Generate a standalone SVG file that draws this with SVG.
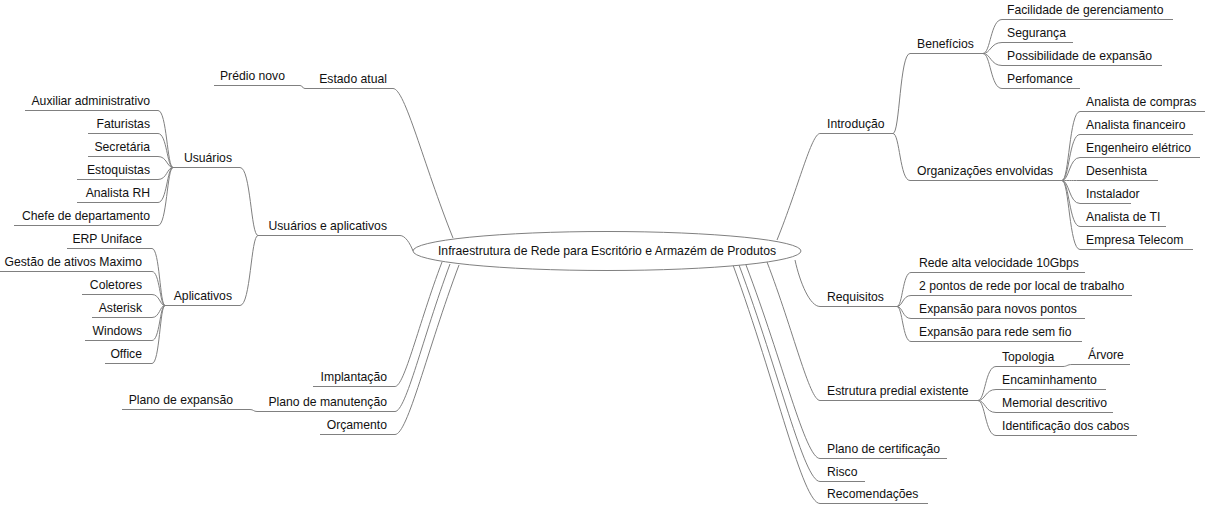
<svg xmlns="http://www.w3.org/2000/svg" width="1205" height="505" viewBox="0 0 1205 505">
<style>
.t{font-family:"Liberation Sans",Arial,sans-serif;font-size:12.2px;fill:#111}
.l{text-anchor:end}
.u,.c{fill:none;stroke:#808080;stroke-width:1}
</style>
<rect width="1205" height="505" fill="#fff"/>
<g id="connectors">
<path class="c" d="M453,238 C423,163 405,88.5 393,88.5"/>
<path class="c" d="M305,88.5 C302,88.5 303,85.5 300,85.5"/>
<path class="c" d="M413,251 C410,243 405,235.5 400,235.5"/>
<path class="c" d="M258,235.5 C250.8,235.5 250.8,167.5 240,167.5"/>
<path class="c" d="M258,235.5 C250.8,235.5 250.8,305.5 240,305.5"/>
<path class="c" d="M173,167.5 C167,167.5 167,110.5 158,110.5"/>
<path class="c" d="M173,167.5 C167,167.5 167,133.5 158,133.5"/>
<path class="c" d="M173,167.5 C167,167.5 167,156.5 158,156.5"/>
<path class="c" d="M173,167.5 C167,167.5 167,179.5 158,179.5"/>
<path class="c" d="M173,167.5 C167,167.5 167,202.5 158,202.5"/>
<path class="c" d="M173,167.5 C167,167.5 167,225.5 158,225.5"/>
<path class="c" d="M165,305.5 C159.8,305.5 159.8,248.5 152,248.5"/>
<path class="c" d="M165,305.5 C159.8,305.5 159.8,271.5 152,271.5"/>
<path class="c" d="M165,305.5 C159.8,305.5 159.8,294.5 152,294.5"/>
<path class="c" d="M165,305.5 C159.8,305.5 159.8,317.5 152,317.5"/>
<path class="c" d="M165,305.5 C159.8,305.5 159.8,340.5 152,340.5"/>
<path class="c" d="M165,305.5 C159.8,305.5 159.8,363.5 152,363.5"/>
<path class="c" d="M442,262 C418.5,324 404.4,386.5 395,386.5"/>
<path class="c" d="M450,264 C422.5,338 406,411.5 395,411.5"/>
<path class="c" d="M459,265 C427,350 407.8,434.5 395,434.5"/>
<path class="c" d="M257,411.5 C253.5,411.5 253.5,409.5 250,409.5"/>
<path class="c" d="M777,240 C798.5,187 811.4,133.5 820,133.5"/>
<path class="c" d="M893,133.5 C899.8,133.5 899.8,53.5 910,53.5"/>
<path class="c" d="M893,133.5 C899.8,133.5 899.8,180.5 910,180.5"/>
<path class="c" d="M983,53.5 C990.6,53.5 990.6,19.5 1002,19.5"/>
<path class="c" d="M983,53.5 C990.6,53.5 990.6,42.5 1002,42.5"/>
<path class="c" d="M983,53.5 C990.6,53.5 990.6,65.5 1002,65.5"/>
<path class="c" d="M983,53.5 C990.6,53.5 990.6,88.5 1002,88.5"/>
<path class="c" d="M1062,180.5 C1069.2,180.5 1069.2,111.5 1080,111.5"/>
<path class="c" d="M1062,180.5 C1069.2,180.5 1069.2,134.5 1080,134.5"/>
<path class="c" d="M1062,180.5 C1069.2,180.5 1069.2,157.5 1080,157.5"/>
<path class="c" d="M1062,180.5 C1069.2,180.5 1069.2,180.5 1080,180.5"/>
<path class="c" d="M1062,180.5 C1069.2,180.5 1069.2,203.5 1080,203.5"/>
<path class="c" d="M1062,180.5 C1069.2,180.5 1069.2,226.5 1080,226.5"/>
<path class="c" d="M1062,180.5 C1069.2,180.5 1069.2,249.5 1080,249.5"/>
<path class="c" d="M795,260 C800,283 810,306.5 820,306.5"/>
<path class="c" d="M897,306.5 C902.6,306.5 902.6,272.5 911,272.5"/>
<path class="c" d="M897,306.5 C902.6,306.5 902.6,295.5 911,295.5"/>
<path class="c" d="M897,306.5 C902.6,306.5 902.6,318.5 911,318.5"/>
<path class="c" d="M897,306.5 C902.6,306.5 902.6,341.5 911,341.5"/>
<path class="c" d="M767,262 C793.5,331 809.4,400.5 820,400.5"/>
<path class="c" d="M978,400.5 C985.2,400.5 985.2,366.5 996,366.5"/>
<path class="c" d="M978,400.5 C985.2,400.5 985.2,389.5 996,389.5"/>
<path class="c" d="M978,400.5 C985.2,400.5 985.2,412.5 996,412.5"/>
<path class="c" d="M978,400.5 C985.2,400.5 985.2,435.5 996,435.5"/>
<path class="c" d="M1063,366.5 C1067,366.5 1067,364.5 1072,364.5"/>
<path class="c" d="M746,265 C783,362 805.2,458.5 820,458.5"/>
<path class="c" d="M739,265 C779.5,373 803.8,481.5 820,481.5"/>
<path class="c" d="M733,265 C776.5,384 802.6,503.5 820,503.5"/>
</g>
<g id="central">
<ellipse cx="607" cy="251" rx="194" ry="19.5" fill="#fff" stroke="#808080"/>
<text class="t" x="607" y="255" text-anchor="middle">Infraestrutura de Rede para Escritório e Armazém de Produtos</text>
</g>
<g id="estado-atual"><path class="u" d="M305,88.5H393"/><text class="t l" x="387" y="83">Estado atual</text></g>
<g id="predio-novo"><path class="u" d="M214,85.5H300"/><text class="t l" x="285" y="80">Prédio novo</text></g>
<g id="usuarios-e-aplicativos"><path class="u" d="M258,235.5H400"/><text class="t l" x="387" y="230">Usuários e aplicativos</text></g>
<g id="usuarios"><path class="u" d="M173,167.5H240"/><text class="t l" x="232" y="162">Usuários</text></g>
<g id="auxiliar"><path class="u" d="M25,110.5H158"/><text class="t l" x="150" y="105">Auxiliar administrativo</text></g>
<g id="faturistas"><path class="u" d="M88,133.5H158"/><text class="t l" x="150" y="128">Faturistas</text></g>
<g id="secretaria"><path class="u" d="M88,156.5H158"/><text class="t l" x="150" y="151">Secretária</text></g>
<g id="estoquistas"><path class="u" d="M77,179.5H158"/><text class="t l" x="150" y="174">Estoquistas</text></g>
<g id="analista-rh"><path class="u" d="M77,202.5H158"/><text class="t l" x="150" y="197">Analista RH</text></g>
<g id="chefe"><path class="u" d="M14,225.5H158"/><text class="t l" x="150" y="220">Chefe de departamento</text></g>
<g id="aplicativos"><path class="u" d="M165,305.5H240"/><text class="t l" x="232" y="300">Aplicativos</text></g>
<g id="erp"><path class="u" d="M67,248.5H152"/><text class="t l" x="142" y="243">ERP Uniface</text></g>
<g id="gestao"><path class="u" d="M0,271.5H152"/><text class="t l" x="142" y="266">Gestão de ativos Maximo</text></g>
<g id="coletores"><path class="u" d="M82,294.5H152"/><text class="t l" x="142" y="289">Coletores</text></g>
<g id="asterisk"><path class="u" d="M92,317.5H152"/><text class="t l" x="142" y="312">Asterisk</text></g>
<g id="windows"><path class="u" d="M85,340.5H152"/><text class="t l" x="142" y="335">Windows</text></g>
<g id="office"><path class="u" d="M105,363.5H152"/><text class="t l" x="142" y="358">Office</text></g>
<g id="implantacao"><path class="u" d="M313,386.5H395"/><text class="t l" x="387" y="381">Implantação</text></g>
<g id="manutencao"><path class="u" d="M257,411.5H395"/><text class="t l" x="387" y="406">Plano de manutenção</text></g>
<g id="expansao"><path class="u" d="M122,409.5H250"/><text class="t l" x="233" y="404">Plano de expansão</text></g>
<g id="orcamento"><path class="u" d="M320,434.5H395"/><text class="t l" x="387" y="429">Orçamento</text></g>
<g id="introducao"><path class="u" d="M820,133.5H893"/><text class="t" x="827" y="128">Introdução</text></g>
<g id="beneficios"><path class="u" d="M910,53.5H983"/><text class="t" x="917" y="48">Benefícios</text></g>
<g id="facilidade"><path class="u" d="M1002,19.5H1173"/><text class="t" x="1007" y="14">Facilidade de gerenciamento</text></g>
<g id="seguranca"><path class="u" d="M1002,42.5H1073"/><text class="t" x="1007" y="37">Segurança</text></g>
<g id="possibilidade"><path class="u" d="M1002,65.5H1162"/><text class="t" x="1007" y="60">Possibilidade de expansão</text></g>
<g id="perfomance"><path class="u" d="M1002,88.5H1080"/><text class="t" x="1007" y="83">Perfomance</text></g>
<g id="organizacoes"><path class="u" d="M910,180.5H1062"/><text class="t" x="917" y="175">Organizações envolvidas</text></g>
<g id="compras"><path class="u" d="M1080,111.5H1205"/><text class="t" x="1086" y="106">Analista de compras</text></g>
<g id="financeiro"><path class="u" d="M1080,134.5H1193"/><text class="t" x="1086" y="129">Analista financeiro</text></g>
<g id="engenheiro"><path class="u" d="M1080,157.5H1200"/><text class="t" x="1086" y="152">Engenheiro elétrico</text></g>
<g id="desenhista"><path class="u" d="M1080,180.5H1158"/><text class="t" x="1086" y="175">Desenhista</text></g>
<g id="instalador"><path class="u" d="M1080,203.5H1131"/><text class="t" x="1086" y="198">Instalador</text></g>
<g id="analista-ti"><path class="u" d="M1080,226.5H1166"/><text class="t" x="1086" y="221">Analista de TI</text></g>
<g id="telecom"><path class="u" d="M1080,249.5H1193"/><text class="t" x="1086" y="244">Empresa Telecom</text></g>
<g id="requisitos"><path class="u" d="M820,306.5H897"/><text class="t" x="827" y="301">Requisitos</text></g>
<g id="rede-alta"><path class="u" d="M911,272.5H1085"/><text class="t" x="919" y="267">Rede alta velocidade 10Gbps</text></g>
<g id="dois-pontos"><path class="u" d="M911,295.5H1132"/><text class="t" x="919" y="290">2 pontos de rede por local de trabalho</text></g>
<g id="novos-pontos"><path class="u" d="M911,318.5H1085"/><text class="t" x="919" y="313">Expansão para novos pontos</text></g>
<g id="sem-fio"><path class="u" d="M911,341.5H1082"/><text class="t" x="919" y="336">Expansão para rede sem fio</text></g>
<g id="estrutura"><path class="u" d="M820,400.5H978"/><text class="t" x="827" y="395">Estrutura predial existente</text></g>
<g id="topologia"><path class="u" d="M996,366.5H1063"/><text class="t" x="1002" y="361">Topologia</text></g>
<g id="arvore"><path class="u" d="M1072,364.5H1130"/><text class="t" x="1088" y="359">Árvore</text></g>
<g id="encaminhamento"><path class="u" d="M996,389.5H1106"/><text class="t" x="1002" y="384">Encaminhamento</text></g>
<g id="memorial"><path class="u" d="M996,412.5H1113"/><text class="t" x="1002" y="407">Memorial descritivo</text></g>
<g id="identificacao"><path class="u" d="M996,435.5H1137"/><text class="t" x="1002" y="430">Identificação dos cabos</text></g>
<g id="certificacao"><path class="u" d="M820,458.5H947"/><text class="t" x="827" y="453">Plano de certificação</text></g>
<g id="risco"><path class="u" d="M820,481.5H865"/><text class="t" x="827" y="476">Risco</text></g>
<g id="recomendacoes"><path class="u" d="M820,503.5H928"/><text class="t" x="827" y="498">Recomendações</text></g>
</svg>
